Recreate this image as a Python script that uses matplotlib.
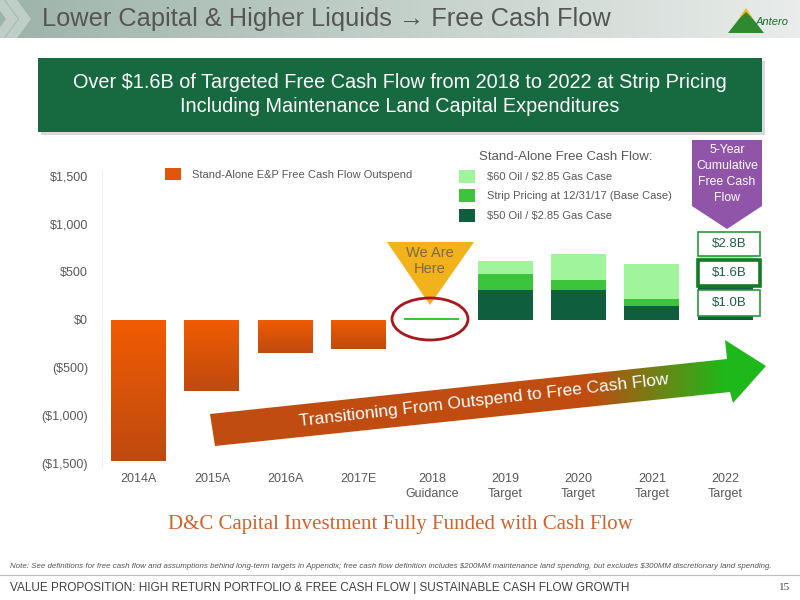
import numpy as np
import matplotlib
matplotlib.use("Agg")
import matplotlib.pyplot as plt
from matplotlib.patches import Polygon, Rectangle, Ellipse
from matplotlib.colors import to_rgb

plt.rcParams['font.family'] = ['Liberation Sans', 'DejaVu Sans']
plt.rcParams['text.parse_math'] = False

# Data ($MM)
categories = ['2014A', '2015A', '2016A', '2017E', '2018\nGuidance',
              '2019\nTarget', '2020\nTarget', '2021\nTarget', '2022\nTarget']
outspend = [-1480, -750, -350, -310, 0, 0, 0, 0, 0]
fcf_60 = [0, 0, 0, 0, 20, 615, 685, 575, 878]
fcf_strip = [0, 0, 0, 0, 20, 477, 415, 216, 460]
fcf_50 = [0, 0, 0, 0, 0, 313, 313, 139, 348]
yticks = [-1500, -1000, -500, 0, 500, 1000, 1500]
ytick_labels = ['($1,500)', '($1,000)', '($500)', '$0', '$500', '$1,000', '$1,500']
cumulative = ['$2.8B', '$1.6B', '$1.0B']

c_orange = '#e0560a'
c_light = '#a0f59c'
c_strip = '#3cc43c'
c_dark = '#0f5e3e'
grey = '#595959'

fig = plt.figure(figsize=(8, 6), dpi=100, facecolor='white')

# ---- main chart ----
ax = fig.add_axes([102 / 800, 1 - 467.8 / 600, 660 / 800, 296.6 / 600])
x = np.arange(len(categories))
w = 0.75
neg = ax.bar(x[:4], outspend[:4], width=w, color=c_orange, zorder=2)
b60 = ax.bar(x[4:], fcf_60[4:], width=w, color=c_light, zorder=2)
bst = ax.bar(x[4:], fcf_strip[4:], width=w, color=c_strip, zorder=3)
b50 = ax.bar(x[4:], fcf_50[4:], width=w, color=c_dark, zorder=4)

# orange vertical gradient on outspend bars
grad = np.linspace(0, 1, 100).reshape(-1, 1)
top_c = np.array(to_rgb('#f05c02'))
bot_c = np.array(to_rgb('#bf4a10'))
for p in neg.patches:
    x0, y0 = p.get_x(), p.get_y()
    pw, ph = p.get_width(), p.get_height()
    img = top_c + (bot_c - top_c) * grad[:, :, None] * np.ones((1, 1, 3))
    im = ax.imshow(img, extent=(x0, x0 + pw, y0 + ph, y0), aspect='auto',
                   origin='upper', zorder=2.5)
    im.set_clip_path(p)

ax.set_xlim(-0.5, len(categories) - 0.5)
ax.set_ylim(-1550, 1550)
ax.set_xticks(x)
ax.set_xticklabels(categories, fontsize=9, color=grey, linespacing=1.25)
ax.set_yticks(yticks)
ax.set_yticklabels(ytick_labels, fontsize=9, color=grey)
ax.tick_params(length=0)
ax.tick_params(axis='y', pad=10)
ax.tick_params(axis='x', pad=4)
for s in ax.spines.values():
    s.set_visible(False)
ax.axvline(-0.5, color='#f0f0f0', lw=0.8, zorder=0)

# legends
lg1 = fig.legend([neg], ['Stand-Alone E&P Free Cash Flow Outspend'],
                 loc='center left', bbox_to_anchor=(165 / 800, 1 - 174 / 600),
                 frameon=False, fontsize=8, handlelength=1.4, handleheight=1.4,
                 handletextpad=1.0, borderpad=0, borderaxespad=0, labelcolor=grey)
lg2 = fig.legend([b60, bst, b50],
                 ['$60 Oil / $2.85 Gas Case', 'Strip Pricing at 12/31/17 (Base Case)',
                  '$50 Oil / $2.85 Gas Case'],
                 loc='upper left', bbox_to_anchor=(459 / 800, 1 - 151 / 600),
                 frameon=False, fontsize=8, handlelength=1.4, handleheight=1.4,
                 handletextpad=1.1, labelspacing=0.6, borderpad=0, borderaxespad=0,
                 labelcolor=grey, title='Stand-Alone Free Cash Flow:',
                 title_fontsize=9.5)
lg2.get_title().set_color(grey)

# ---- overlay in pixel coordinates ----
ov = fig.add_axes([0, 0, 1, 1], zorder=5)
ov.set_xlim(0, 800)
ov.set_ylim(600, 0)
ov.axis('off')

# title bar
hg = np.linspace(0, 1, 200).reshape(1, -1)
c1, c2 = np.array(to_rgb('#9db4aa')), np.array(to_rgb('#e9ecea'))
ov.imshow(c1 + (c2 - c1) * hg[:, :, None], extent=(0, 800, 38, 0), aspect='auto', zorder=1)
for dx in (0, 13):
    ov.add_patch(Polygon([(dx - 8, 0), (dx + 4, 0), (dx + 18, 19), (dx + 4, 38),
                          (dx - 8, 38), (dx + 6, 19)], closed=True,
                         facecolor='white', alpha=0.35, edgecolor='none', zorder=2))
ov.text(42, 19, 'Lower Capital & Higher Liquids \u2192 Free Cash Flow', fontsize=18.3,
        color='#555555', va='center', ha='left', zorder=3)
# logo
ov.add_patch(Polygon([(728, 33), (746, 10), (764, 33)], closed=True,
                     facecolor='#2f8a2f', edgecolor='none', zorder=3))
ov.add_patch(Polygon([(738, 20), (746, 8), (754, 20), (746, 12)], closed=True,
                     facecolor='#f2b61c', edgecolor='none', zorder=3))
ov.text(772, 22, 'Antero', fontsize=8, style='italic', color='#1d6b2a',
        ha='center', va='center', zorder=4)

# green headline box
ov.add_patch(Rectangle((41, 61), 724, 74, facecolor='#000000', alpha=0.15,
                       edgecolor='none', zorder=1))
ov.add_patch(Rectangle((38, 58), 724, 74, facecolor='#17693f', edgecolor='none', zorder=2))
ov.text(400, 82, 'Over $1.6B of Targeted Free Cash Flow from 2018 to 2022 at Strip Pricing',
        fontsize=14.3, color='white', ha='center', va='center', zorder=3)
ov.text(400, 107, 'Including Maintenance Land Capital Expenditures',
        fontsize=14.3, color='white', ha='center', va='center', zorder=3)

# purple callout
ov.add_patch(Polygon([(692, 140), (762, 140), (762, 206), (727, 229), (692, 206)],
                     closed=True, facecolor='#9055a8', edgecolor='none', zorder=2))
ov.text(727, 174, '5-Year\nCumulative\nFree Cash\nFlow', fontsize=8.8, color='white',
        ha='center', va='center', linespacing=1.42, zorder=3)

# cumulative boxes
boxes = [(232, 24, '#2a9a3a', 1.2), (260, 26, '#137a25', 2.6), (290, 26, '#2a9a3a', 1.2)]
for (by, bh, ec, lw), lab in zip(boxes, cumulative):
    ov.add_patch(Rectangle((698, by), 62, bh, facecolor='white', edgecolor=ec,
                           lw=lw, zorder=3))
    ov.text(729, by + bh / 2, lab, fontsize=9.5, color='#1d5e48', ha='center',
            va='center', zorder=4)

# "We Are Here"
ov.add_patch(Polygon([(387, 242), (474, 242), (430, 305)], closed=True,
                     facecolor='#f2b21c', edgecolor='none', zorder=2))
ov.text(430, 261, 'We Are\nHere', fontsize=10.5, color='#7a6a48', ha='center',
        va='center', linespacing=1.1, zorder=3)
ov.add_patch(Ellipse((430, 319), 76, 42, facecolor='none', edgecolor='#a8171c',
                     lw=2, zorder=3))

# transition arrow
arrow = Polygon([(210, 414), (727, 359), (725, 340), (766, 366), (733, 403),
                 (730, 392), (215, 446)], closed=True, facecolor='none',
                edgecolor='none', zorder=2)
ov.add_patch(arrow)
xs = np.linspace(0, 1, 400)
ca, cb = np.array(to_rgb('#c04c10')), np.array(to_rgb('#1fb81a'))
t = np.clip((xs * (770 - 205) + 205 - 590) / (725 - 590), 0, 1)
arr_img = (ca + (cb - ca) * t[:, None])[None, :, :]
im = ov.imshow(arr_img, extent=(205, 770, 450, 335), aspect='auto', zorder=2)
im.set_clip_path(arrow)
ov.text(484, 401, 'Transitioning From Outspend to Free Cash Flow', fontsize=12.5,
        color='white', rotation=6.5, ha='center', va='center',
        rotation_mode='anchor', zorder=3)

# subtitle, note, footer
ov.text(400, 524, 'D&C Capital Investment Fully Funded with Cash Flow', fontsize=15,
        color='#d2622a', ha='center', va='center', family='Liberation Serif', zorder=3)
ov.text(10, 566, 'Note: See definitions for free cash flow and assumptions behind long-term '
        'targets in Appendix; free cash flow definition includes $200MM maintenance land '
        'spending, but excludes $300MM discretionary land spending.',
        fontsize=5.65, style='italic', color='#555555', ha='left', va='center', zorder=3)
ov.plot([0, 800], [575, 575], color='#bfbfbf', lw=0.8, zorder=2)
ov.text(10, 588, 'VALUE PROPOSITION: HIGH RETURN PORTFOLIO & FREE CASH FLOW | '
        'SUSTAINABLE CASH FLOW GROWTH', fontsize=8.5, color='#404040', ha='left',
        va='center', zorder=3)
ov.text(790, 588, '15', fontsize=8, color='#404040', ha='right', va='center',
        family='Liberation Serif', zorder=3)

fig.savefig('out.png', dpi=100, facecolor='white')
